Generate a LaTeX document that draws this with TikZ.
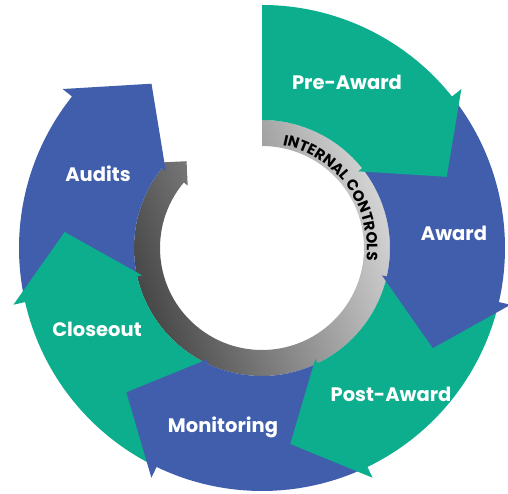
\documentclass[tikz,border=0pt]{standalone}
\usepackage{fontspec}
\setmainfont{Poppins}
\usepackage{tikz}
\usetikzlibrary{decorations.text}
\definecolor{cyclegreen}{RGB}{12,174,142}
\definecolor{cycleblue}{RGB}{64,94,172}
\def\ri{128pt}
\def\ro{243pt}
\def\rbi{123pt}
\def\rbo{255pt}
\def\rtip{198pt}
\def\gi{102pt}
\def\go{128pt}
\tikzstyle{phasetext} = [font=\bfseries\fontsize{19.5}{22}\selectfont, text=white, inner sep=0pt]
% one block of the cycle: tail angle, base of head, colour
\newcommand{\cyclearrow}[3]{%
  \fill[#3] (#1:\ri) arc[start angle=#1, end angle=#2, radius=\ri] -- (#2:\rbi)
    -- (#2-17.5:\rtip) -- (#2:\rbo) -- (#2:\ro)
    arc[start angle=#2, end angle=#1, radius=\ro] -- cycle;}

\begin{document}
\begin{tikzpicture}[x=1pt,y=1pt]
        \useasboundingbox (-262,-246) rectangle (246,248);
        % inner ring
        \shade[top color=black!17, bottom color=black!72, shading angle=-70]
          (90:\gi) -- (90:\go) arc[start angle=90, end angle=-220, radius=\go]
          -- (-220:133pt) -- (-229:115pt) -- (-220:97pt) -- (-220:\gi)
          arc[start angle=-220, end angle=90, radius=\gi] -- cycle;
        % each head lies on the tail of the next block
        \foreach \tail/\base/\col in {-167.14/-218.57/cycleblue, -115.71/-167.14/cyclegreen,
            -64.29/-115.71/cycleblue, -12.86/-64.29/cyclegreen,
            38.57/-12.86/cycleblue, 90/38.57/cyclegreen}
          \cyclearrow{\tail}{\base}{\col};
        \path[decorate, decoration={text along path, text align=center,
            text={|\bfseries\fontsize{15}{15}\selectfont|INTERNAL CONTROLS}}]
          (88:105pt) arc[start angle=88, end angle=-16, radius=105pt];
        \node[phasetext] (preaward) at (85,166) {Pre-Award};
        \node[phasetext] (award) at (192,15) {Award};
        \node[phasetext] (postaward) at (129,-146) {Post-Award};
        \node[phasetext] (monitoring) at (-39,-179) {Monitoring};
        \node[phasetext] (closeout) at (-165,-81) {Closeout};
        \node[phasetext] (audits) at (-164,74) {Audits};
\end{tikzpicture}
\end{document}
